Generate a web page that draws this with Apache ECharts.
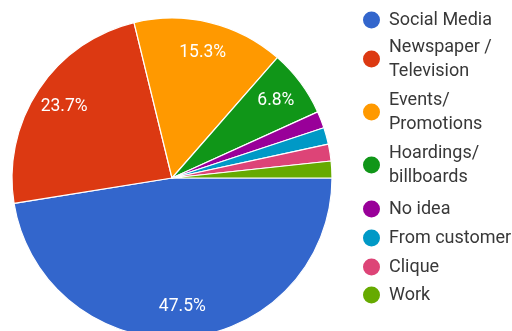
<!DOCTYPE html>
<html>
<head>
<meta charset="utf-8">
<script src="https://cdn.jsdelivr.net/npm/echarts@6/dist/echarts.min.js"></script>
<style>
  html, body { margin: 0; padding: 0; background: #fff; }
  #chart { width: 512px; height: 331px; }
</style>
</head>
<body>
<div id="chart"></div>
<script>
// Survey responses: where people heard about the brand
const categories = ['Social Media', 'Newspaper / Television', 'Events/ Promotions', 'Hoardings/ billboards', 'No idea', 'From customer', 'Clique', 'Work'];
const legendLabels = ['Social Media', 'Newspaper /\nTelevision', 'Events/\nPromotions', 'Hoardings/\nbillboards', 'No idea', 'From customer', 'Clique', 'Work'];
const responses = [28, 14, 9, 4, 1, 1, 1, 1];
const colors = ['#3366cc', '#dc3912', '#ff9900', '#109618', '#990099', '#0099c6', '#dd4477', '#66aa00'];

const total = responses.reduce((a, b) => a + b, 0);
const FONT = 'Roboto, "Noto Sans", Arial, sans-serif';
const PIE_CENTER = [172, 178];
const PIE_R = 160;
const LABEL_RING = 0.79; // labels sit at this fraction of the radius

// legend rows: vertical centre of each entry's first line
const legendRowY = [20, 50, 103, 156, 209, 238, 267, 295];

const sliceData = categories.map((name, i) => ({
  name: name,
  value: responses[i],
  itemStyle: { color: colors[i] }
}));

// label ring: transparent sectors whose mid-radius carries the percentage text
const labelData = categories.map((name, i) => ({
  name: name,
  value: responses[i],
  label: { show: responses[i] / total > 0.05 }
}));

const legends = categories.map((name, i) => ({
  orient: 'vertical',
  left: 361,
  top: legendRowY[i] - 12,
  padding: 0,
  itemWidth: 19,
  itemHeight: 19,
  itemGap: 0,
  icon: 'circle',
  selectedMode: false,
  data: [name],
  formatter: () => legendLabels[i],
  textStyle: {
    fontFamily: FONT,
    fontSize: 18,
    color: '#383838',
    lineHeight: 24,
    padding: legendLabels[i].indexOf('\n') >= 0 ? [0, 0, -24, 3] : [0, 0, 0, 3]
  }
}));

const chart = echarts.init(document.getElementById('chart'), null, { renderer: 'canvas' });
chart.setOption({
  animation: false,
  backgroundColor: '#ffffff',
  legend: legends,
  series: [
    {
      type: 'pie',
      center: PIE_CENTER,
      radius: PIE_R,
      startAngle: 0,
      clockwise: true,
      avoidLabelOverlap: false,
      label: { show: false },
      labelLine: { show: false },
      itemStyle: { borderColor: '#ffffff', borderWidth: 1.2 },
      emphasis: { disabled: true },
      data: sliceData
    },
    {
      type: 'pie',
      center: PIE_CENTER,
      radius: [PIE_R * (2 * LABEL_RING - 1), PIE_R],
      startAngle: 0,
      clockwise: true,
      silent: true,
      legendHoverLink: false,
      avoidLabelOverlap: false,
      itemStyle: { color: 'transparent', borderWidth: 0 },
      label: {
        show: true,
        position: 'inside',
        formatter: (p) => (p.value / total * 100).toFixed(1) + '%',
        color: '#ffffff',
        fontFamily: FONT,
        fontSize: 17.5
      },
      labelLine: { show: false },
      emphasis: { disabled: true },
      data: labelData
    }
  ]
});
</script>
</body>
</html>
